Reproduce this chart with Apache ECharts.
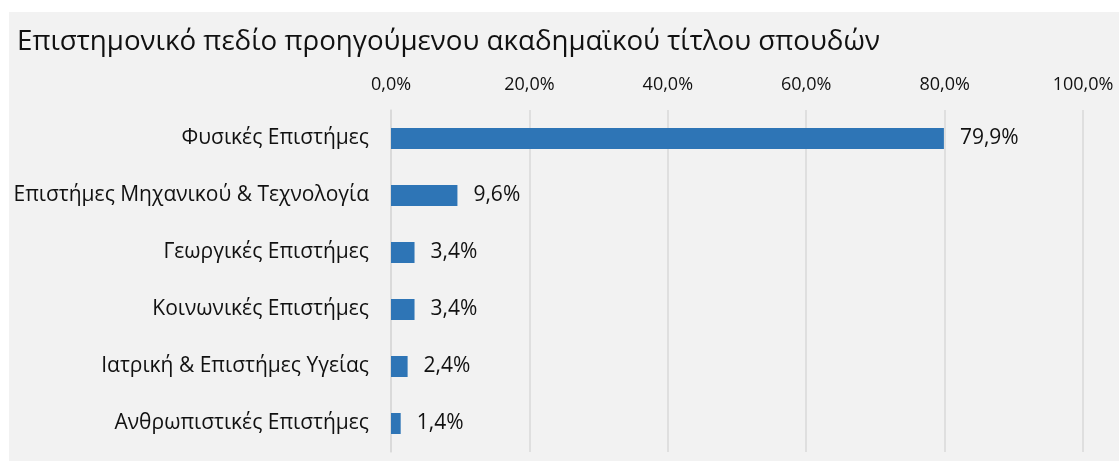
<!DOCTYPE html>
<html><head><meta charset="utf-8">
<script src="https://cdn.jsdelivr.net/npm/echarts@6/dist/echarts.min.js"></script>
<style>html,body{margin:0;padding:0;background:#fff;width:1119px;height:461px;overflow:hidden}
#c{position:absolute;left:9px;top:12px;width:1110px;height:449px}</style>
</head><body><div id="c"></div>
<script>
const titleText = 'Επιστημονικό πεδίο προηγούμενου ακαδημαϊκού τίτλου σπουδών';
const categories = ['Φυσικές Επιστήμες','Επιστήμες Μηχανικού & Τεχνολογία','Γεωργικές Επιστήμες','Κοινωνικές Επιστήμες','Ιατρική & Επιστήμες Υγείας','Ανθρωπιστικές Επιστήμες'];
const values = [79.9, 9.6, 3.4, 3.4, 2.4, 1.4];
const axisTicks = [0, 20, 40, 60, 80, 100];
const fmt = v => v.toFixed(1).replace('.', ',') + '%';
const FONT = 'Open Sans';
const TXT = '#111';
const chart = echarts.init(document.getElementById('c'));
chart.setOption({
  backgroundColor: '#f2f2f2',
  animation: false,
  title: {text: titleText, left: 3, top: 11, textStyle: {fontFamily: FONT, fontSize: 27.7, fontWeight: 'normal', color: TXT}},
  grid: {left: 382, right: 36, top: 98, bottom: 9},
  xAxis: {type: 'value', position: 'top', min: axisTicks[0], max: axisTicks[axisTicks.length-1], interval: 20,
    axisLine: {show: false}, axisTick: {show: false},
    axisLabel: {formatter: fmt, fontFamily: FONT, fontSize: 18, color: TXT, margin: 16},
    splitLine: {lineStyle: {color: '#d9d9d9', width: 1.5}}},
  yAxis: {type: 'category', data: categories, inverse: true,
    axisLine: {lineStyle: {color: '#d9d9d9', width: 1.5}}, axisTick: {show: false},
    axisLabel: {fontFamily: FONT, fontSize: 21, color: TXT, margin: 22}},
  series: [{type: 'bar', data: values, barWidth: 21, itemStyle: {color: '#2e75b6'},
    label: {show: true, position: 'right', distance: 16, formatter: p => fmt(p.value), fontFamily: FONT, fontSize: 21, color: TXT}}]
});
</script></body></html>
